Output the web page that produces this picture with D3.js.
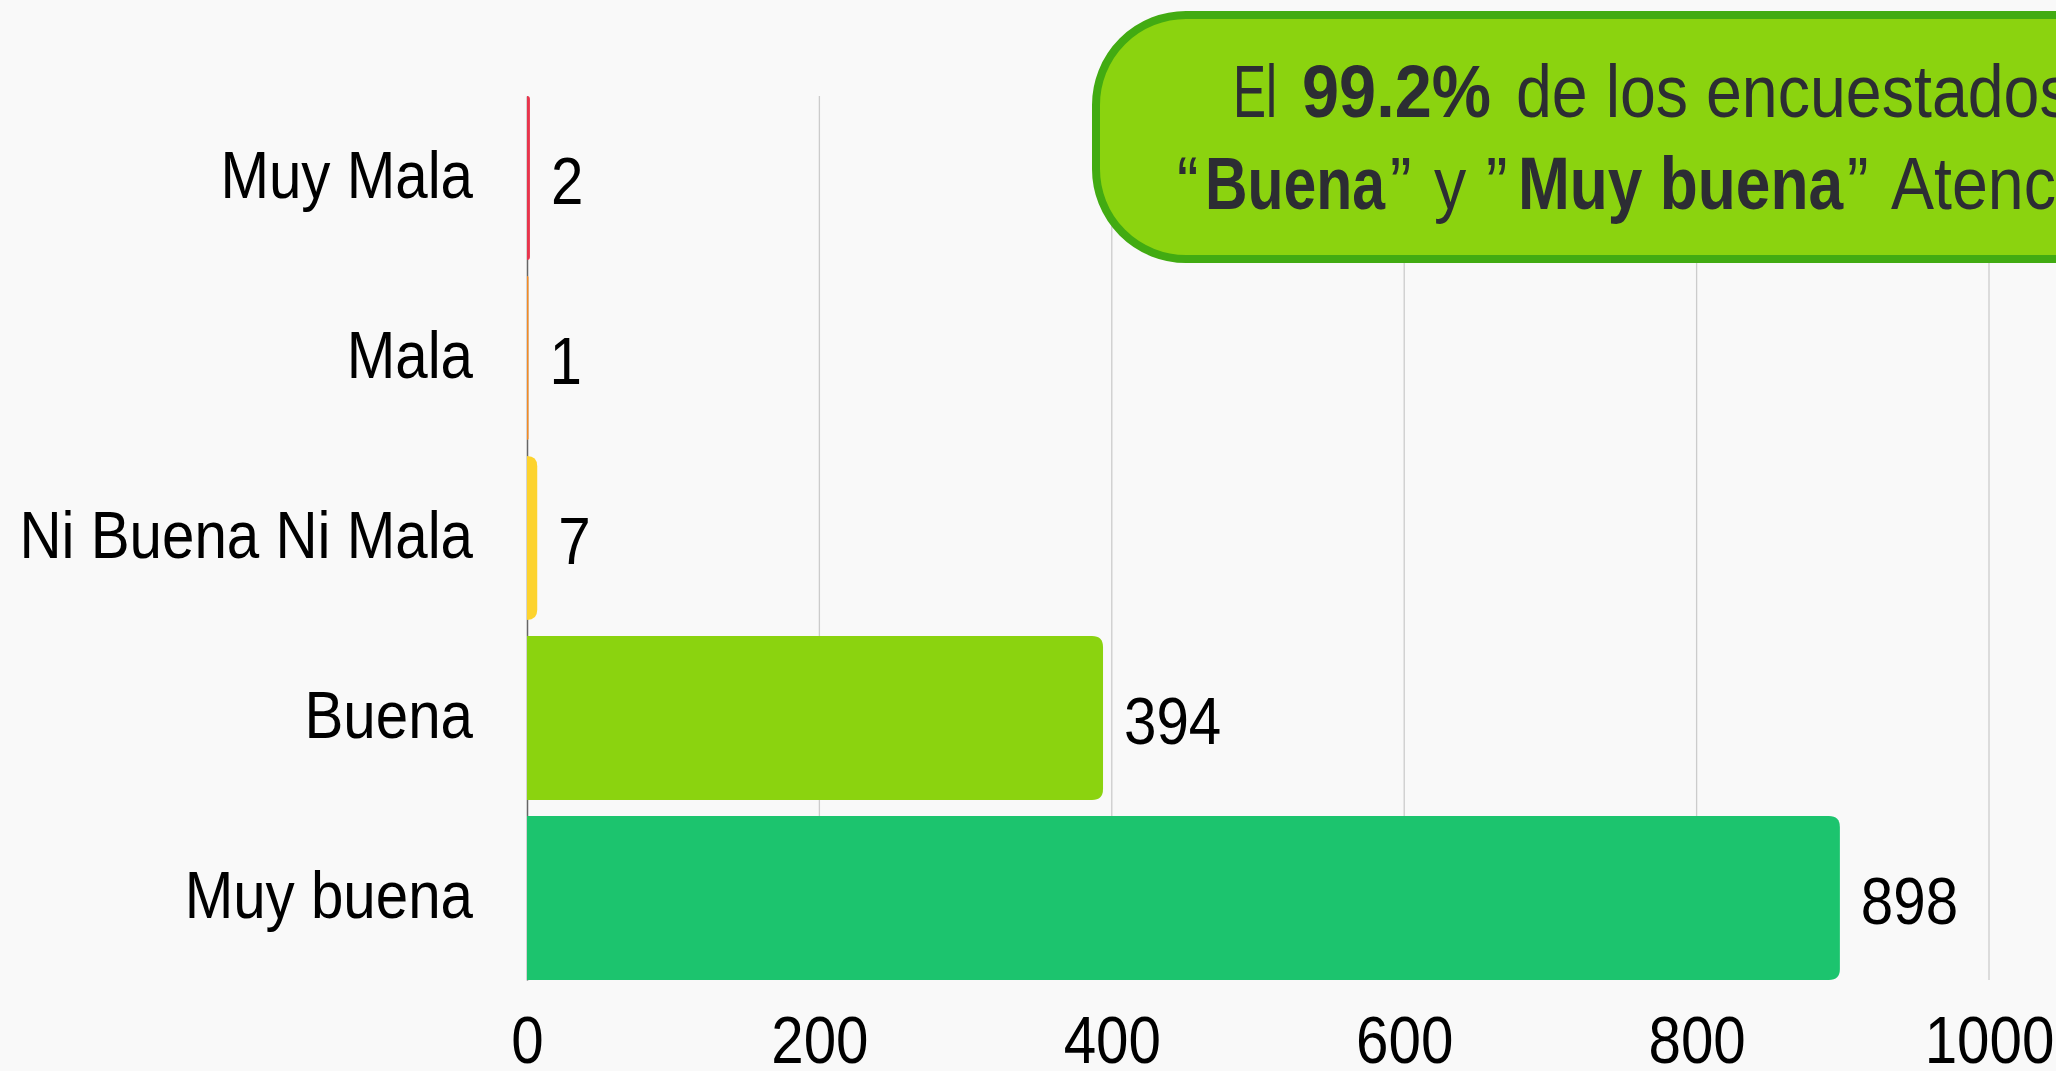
<!DOCTYPE html>
<html>
<head>
<meta charset="utf-8">
<script src="https://cdn.jsdelivr.net/npm/d3@7"></script>
<style>
  body { margin: 0; background: #f9f9f9; overflow: hidden; }
  svg { display: block; font-family: 'Liberation Sans', Arial, sans-serif; }
</style>
</head>
<body>
<div id="chart"></div>
<script>
// data
let categories = ['Muy Mala', 'Mala', 'Ni Buena Ni Mala', 'Buena', 'Muy buena'];
let values = [2, 1, 7, 394, 898];
let xTicks = [0, 200, 400, 600, 800, 1000];
let barColors = ['#e8354d', '#f58a22', '#fdd32e', '#8bd30f', '#1cc46e'];

let svgWidth = 2056;
let svgHeight = 1071;

let margin = { top: 96, right: 67, bottom: 91, left: 527 };
let width = svgWidth - margin.left - margin.right;
let height = svgHeight - margin.top - margin.bottom;

// narrow look: Liberation Sans squeezed horizontally
let fontSize = 67;
let squeeze = 0.87;

let svg = d3.select('#chart').append('svg')
  .attr('width', svgWidth)
  .attr('height', svgHeight);

svg.append('rect')
  .attr('width', svgWidth)
  .attr('height', svgHeight)
  .attr('fill', '#f9f9f9');

let chartGroup = svg.append('g')
  .attr('transform', `translate(${margin.left}, ${margin.top})`);

let x = d3.scaleLinear().domain([0, 1000]).range([0, width]);
let y = d3.scaleBand().domain(categories).range([0, height])
  .paddingInner(0.089).paddingOuter(0);

// gridlines
chartGroup.append('g')
  .selectAll('line')
  .data(xTicks.filter(d => d > 0))
  .enter()
  .append('line')
  .attr('x1', d => x(d)).attr('x2', d => x(d))
  .attr('y1', 0).attr('y2', height)
  .attr('stroke', '#cccccc')
  .attr('stroke-width', 1.3);

// x axis labels
let xAxis = chartGroup.append('g')
  .attr('transform', `translate(0, ${height})`)
  .call(d3.axisBottom(x).tickValues(xTicks).tickSize(0).tickPadding(35).tickFormat(d3.format('d')));
xAxis.select('.domain').remove();
xAxis.selectAll('text')
  .attr('font-size', fontSize + 'px')
  .attr('font-family', null)
  .attr('fill', '#000')
  .attr('transform', `scale(${squeeze},1)`);

// y axis
let yAxis = chartGroup.append('g')
  .call(d3.axisLeft(y).tickSize(0).tickSizeOuter(0).tickPadding(54));
yAxis.select('.domain').attr('stroke', '#666').attr('stroke-width', 1.5);
yAxis.selectAll('text')
  .attr('font-size', fontSize + 'px')
  .attr('font-family', null)
  .attr('fill', '#000')
  .attr('x', -54 / squeeze)
  .attr('dy', '0.3em')
  .attr('transform', `scale(${squeeze},1)`);

function barPath(w, h, r) {
  r = Math.min(r, w, h / 2);
  return `M0,0 H${w - r} Q${w},0 ${w},${r} V${h - r} Q${w},${h} ${w - r},${h} H0 Z`;
}

chartGroup.selectAll('.bar')
  .data(values)
  .enter()
  .append('path')
  .attr('class', 'bar')
  .attr('transform', (d, i) => `translate(0, ${y(categories[i])})`)
  .attr('d', d => barPath(x(d), y.bandwidth(), 11))
  .attr('fill', (d, i) => barColors[i]);

chartGroup.selectAll('.val')
  .data(values)
  .enter()
  .append('text')
  .attr('class', 'val')
  .attr('transform', `scale(${squeeze},1)`)
  .attr('x', d => (x(d) + 21) / squeeze)
  .attr('y', (d, i) => y(categories[i]) + y.bandwidth() / 2)
  .attr('dy', '0.39em')
  .attr('font-size', fontSize + 'px')
  .attr('fill', '#000')
  .text(d => d);

// annotation box
svg.append('rect')
  .attr('x', 1096)
  .attr('y', 15)
  .attr('width', 1200)
  .attr('height', 244)
  .attr('rx', 90)
  .attr('ry', 90)
  .attr('fill', '#8bd30f')
  .attr('stroke', '#42ab12')
  .attr('stroke-width', 8);

let noteGroup = svg.append('g')
  .attr('font-size', '75px')
  .attr('fill', '#2c2d33');

// regular pieces are squeezed, pieces with a measured width are fitted to it
function piece(px, py, str, bold, fitWidth) {
  let t = noteGroup.append('text').attr('y', py).text(str);
  if (bold) t.attr('font-weight', 'bold');
  if (fitWidth) {
    t.attr('x', px)
      .attr('textLength', fitWidth)
      .attr('lengthAdjust', 'spacingAndGlyphs');
  } else {
    t.attr('x', px / 0.86)
      .attr('transform', 'scale(0.86,1)');
  }
}

piece(1233, 117, 'El', false, 44);
piece(1302, 117, '99.2%', true, 189);
piece(1516, 117, 'de los encuestados califica como', false);

piece(1177, 209, '“', false);
piece(1205, 209, 'Buena', true, 180);
piece(1390, 209, '”', false);
piece(1434, 209, 'y', false);
piece(1486, 209, '”', false);
piece(1518, 209, 'Muy buena', true, 325);
piece(1847, 209, '”', false);
piece(1891, 209, 'Atención recibida', false);
</script>
</body>
</html>
